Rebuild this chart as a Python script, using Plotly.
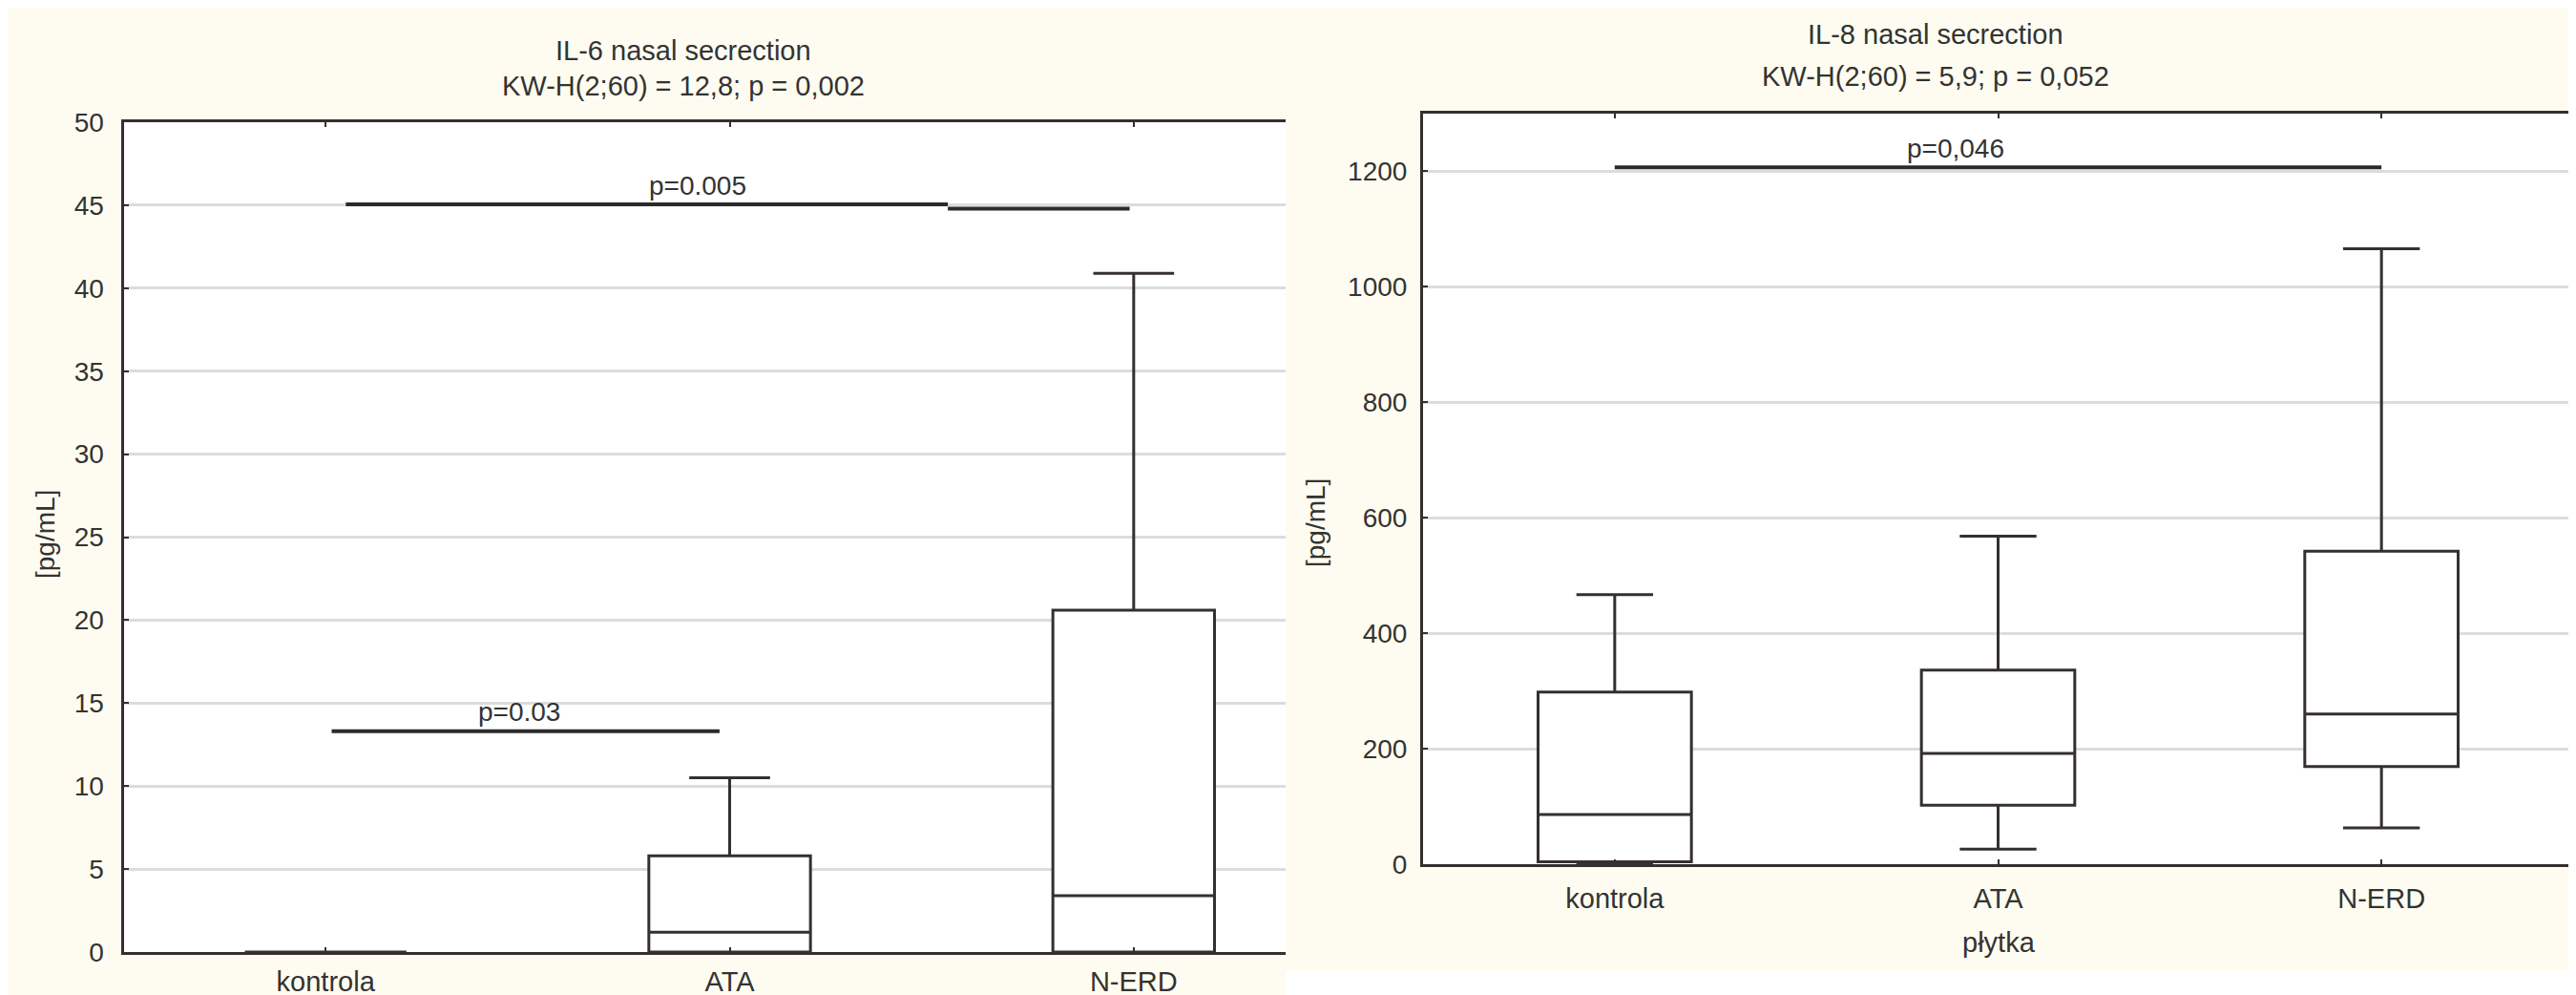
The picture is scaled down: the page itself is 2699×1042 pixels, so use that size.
import plotly.graph_objects as go

# ---------------- data ----------------
categories = ["kontrola", "ATA", "N-ERD"]
cat_pos = [0, 1, 2]

# IL-6 nasal secretion [pg/mL]
il6_min = [0, 0, 0]
il6_q1 = [0, 0, 0]
il6_median = [0, 1.2, 3.4]
il6_q3 = [0, 5.8, 20.6]
il6_max = [0, 10.5, 40.9]

# IL-8 nasal secretion [pg/mL]
il8_min = [2, 26, 63]
il8_q1 = [4, 102, 169]
il8_median = [86, 192, 260]
il8_q3 = [298, 336, 542]
il8_max = [467, 568, 1066]

# significance bars
il6_sig_x0 = [0.05, 1.54, 0.015]
il6_sig_x1 = [1.54, 1.99, 0.975]
il6_sig_y = [45.05, 44.8, 13.3]
il6_sig_text = ["p=0.005", "p=0.03"]
il6_sig_text_x = [0.92, 0.48]
il6_sig_text_y = [45.05, 13.3]

il8_sig_x0 = [0.0]
il8_sig_x1 = [2.0]
il8_sig_y = [1207]
il8_sig_text = ["p=0,046"]
il8_sig_text_x = [0.89]
il8_sig_text_y = [1207]

title_left = ["IL-6 nasal secrection", "KW-H(2;60) = 12,8; p = 0,002"]
title_right = ["IL-8 nasal secrection", "KW-H(2;60) = 5,9; p = 0,052"]
y_title = "[pg/mL]"
x_title_right = "płytka"

# ---------------- layout constants (screen pixels) ----------------
W, H = 2699, 1042
OFF = 8  # page body margin offset
L = dict(x0=129.5, x1=1347, top=128, bot=997)
R = dict(x0=1491, x1=2696, top=119, bot=905)
ink = "#352f2f"
grid = "#dcdcdc"
cream = "#fefcf0"
FONT = "Liberation Sans, Arial, sans-serif"
TXT = "#333333"

def fx(px):
    return (px - OFF) / W

def fy(py):
    return 1 - (py - OFF) / H

def dom_x(p):
    return [fx(p["x0"]), fx(p["x1"])]

def dom_y(p):
    return [fy(p["bot"]), fy(p["top"])]

fig = go.Figure()

def add_box(q1, med, q3, lo, hi, xa, ya):
    fig.add_trace(go.Box(
        x=cat_pos, q1=q1, median=med, q3=q3, lowerfence=lo, upperfence=hi,
        xaxis=xa, yaxis=ya, width=0.4, whiskerwidth=0.5, boxpoints=False,
        fillcolor="white", line=dict(color=ink, width=3), showlegend=False,
        hoverinfo="y",
    ))

add_box(il6_q1, il6_median, il6_q3, il6_min, il6_max, "x", "y")
add_box(il8_q1, il8_median, il8_q3, il8_min, il8_max, "x2", "y2")

def add_sig(x0s, x1s, ys, xa, ya):
    for a, b, yv in zip(x0s, x1s, ys):
        fig.add_trace(go.Scatter(
            x=[a, b], y=[yv, yv], mode="lines", xaxis=xa, yaxis=ya,
            line=dict(color="#2b2b2b", width=4), showlegend=False, hoverinfo="skip",
        ))

add_sig(il6_sig_x0, il6_sig_x1, il6_sig_y, "x", "y")
add_sig(il8_sig_x0, il8_sig_x1, il8_sig_y, "x2", "y2")

annotations = []
for t, xv, yv in zip(il6_sig_text, il6_sig_text_x, il6_sig_text_y):
    annotations.append(dict(x=xv, y=yv, xref="x", yref="y", text=t, showarrow=False,
                            xanchor="center", yanchor="middle", yshift=20,
                            font=dict(size=28, color=TXT)))
for t, xv, yv in zip(il8_sig_text, il8_sig_text_x, il8_sig_text_y):
    annotations.append(dict(x=xv, y=yv, xref="x2", yref="y2", text=t, showarrow=False,
                            xanchor="center", yanchor="middle", yshift=20,
                            font=dict(size=28, color=TXT)))

def paper_text(text, px, py, size, angle=0):
    annotations.append(dict(x=fx(px), y=fy(py), xref="paper", yref="paper",
                            text=text, showarrow=False, xanchor="center", yanchor="middle",
                            textangle=angle, font=dict(size=size, color=TXT)))

# titles
paper_text(title_left[0], 716, 53, 29)
paper_text(title_left[1], 716, 90, 29)
paper_text(title_right[0], 2028, 36, 29)
paper_text(title_right[1], 2028, 80, 29)
# y titles
paper_text(y_title, 47, 560, 28, -90)
paper_text(y_title, 1378, 548, 28, -90)
# x title right
paper_text(x_title_right, 2094, 987, 29)

axis_common = dict(showline=True, linecolor=ink, linewidth=3, ticks="inside",
                   tickcolor=ink, ticklen=5, tickwidth=2, zeroline=False,
                   automargin=False)
xfont = dict(size=29, color=TXT)
yfont = dict(size=28, color=TXT)

fig.update_layout(
    width=W, height=H, margin=dict(l=0, r=0, t=0, b=0, pad=0),
    paper_bgcolor=cream, plot_bgcolor="white",
    font=dict(family=FONT, color=TXT),
    showlegend=False,
    annotations=annotations,
    xaxis=dict(domain=dom_x(L), range=[-0.5, 2.376], tickvals=cat_pos, ticktext=categories,
               showgrid=False, mirror="ticks", anchor="y", ticklabelstandoff=3,
               tickfont=xfont, **axis_common),
    yaxis=dict(domain=dom_y(L), range=[0, 50], dtick=5, tick0=0, showgrid=True,
               gridcolor=grid, gridwidth=3, mirror=False, anchor="x", ticklabelstandoff=12,
               tickfont=yfont, **axis_common),
    xaxis2=dict(domain=dom_x(R), range=[-0.5, 2.5], tickvals=cat_pos, ticktext=categories,
                showgrid=False, mirror="ticks", anchor="y2", ticklabelstandoff=8,
                tickfont=xfont, **axis_common),
    yaxis2=dict(domain=dom_y(R), range=[0, 1300], dtick=200, tick0=0, showgrid=True,
                gridcolor=grid, gridwidth=3, mirror="ticks", anchor="x2", ticklabelstandoff=8,
                tickfont=yfont, **axis_common),
    shapes=[dict(type="rect", xref="paper", yref="paper", x0=fx(1347), x1=1,
                 y0=0, y1=fy(1017), fillcolor="white", line=dict(width=0),
                 layer="below")],
)

fig.write_html("out.html")
